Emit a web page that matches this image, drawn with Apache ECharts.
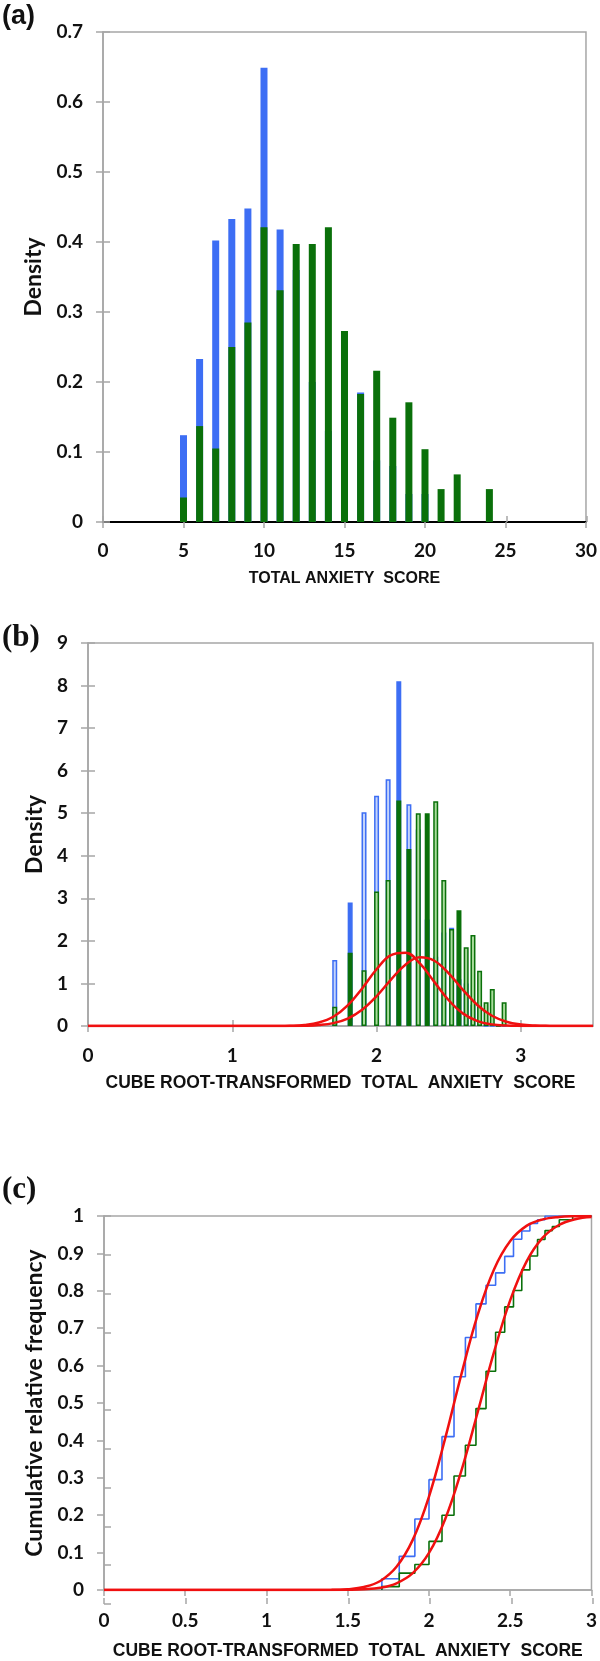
<!DOCTYPE html>
<html><head><meta charset="utf-8">
<script src="https://cdn.jsdelivr.net/npm/echarts@6/dist/echarts.min.js"></script>
<style>html,body{margin:0;padding:0;background:#fff}#c{width:600px;height:1661px}</style>
</head><body><div id="c"></div>
<script>
// ---------------- DATA ----------------
const scores = [5,6,7,8,9,10,11,12,13,14,15,16,17,18,19,20,21,22,23,24];
// (a) density by total anxiety score
const densityA_blue  = [0.124,0.233,0.402,0.433,0.448,0.649,0.418,0.36,0.20,0.13,0.176,0.185,0.088,0.08,0.04,0.04,0,0,0,0];
const densityA_green = [0.035,0.137,0.105,0.25,0.285,0.421,0.331,0.397,0.397,0.421,0.273,0.183,0.216,0.149,0.171,0.104,0.047,0.068,0,0.047];
// (b) cube-root transformed positions and densities
const cubeRoots = [1.710,1.817,1.913,2.000,2.080,2.154,2.224,2.289,2.351,2.410,2.466,2.520,2.571,2.621,2.668,2.714,2.759,2.802,2.844,2.884];
const densityB_blue  = [1.55,2.90,5.02,5.41,5.80,8.10,5.21,4.62,2.5,1.63,2.2,2.31,1.1,1.0,0.5,0.5,0,0,0,0];
const densityB_green = [0.45,1.72,1.31,3.16,3.43,5.30,4.16,5.00,5.00,5.28,3.43,2.28,2.72,1.85,2.14,1.30,0.56,0.87,0,0.56];
// (b) fitted normal density curves
const fitB_x     = [0,1.2,1.3,1.4,1.5,1.6,1.7,1.8,1.9,2.0,2.1,2.2,2.3,2.4,2.5,2.6,2.7,2.8,2.9,3.0,3.1,3.2,3.3,3.5];
const fitB_blue  = [0,0,0.001,0.006,0.025,0.081,0.217,0.484,0.882,1.334,1.667,1.722,1.470,1.037,0.605,0.291,0.116,0.038,0.010,0.002,0,0,0,0];
const fitB_green = [0,0,0,0.0015,0.006,0.023,0.068,0.175,0.380,0.699,1.090,1.441,1.615,1.534,1.236,0.844,0.488,0.240,0.100,0.035,0.010,0.0025,0,0];
// (c) cumulative relative frequency
const cdfC_blue  = [0.03,0.09,0.19,0.295,0.41,0.57,0.675,0.765,0.815,0.848,0.892,0.938,0.96,0.98,0.99,1,1,1,1,1];
const cdfC_green = [0.009,0.045,0.068,0.13,0.2,0.305,0.387,0.485,0.585,0.689,0.757,0.801,0.856,0.893,0.937,0.961,0.972,0.99,0.99,1];
const fitC_x     = [0,1.0,1.4,1.5,1.6,1.7,1.8,1.9,2.0,2.1,2.2,2.3,2.4,2.5,2.6,2.7,2.8,2.9,3.0];
const fitC_blue  = [0,0,0.0005,0.0022,0.008,0.024,0.062,0.134,0.250,0.406,0.578,0.736,0.857,0.933,0.9735,0.991,0.9975,0.9994,1.0];
const fitC_green = [0,0,0,0.0004,0.0018,0.006,0.018,0.045,0.099,0.190,0.320,0.476,0.636,0.775,0.878,0.942,0.976,0.9915,0.9974];
// tick labels
const ticksA_x = [0,5,10,15,20,25,30];
const ticksA_y = [0,0.1,0.2,0.3,0.4,0.5,0.6,0.7];
const ticksB_x = [0,1,2,3];
const ticksB_y = [0,1,2,3,4,5,6,7,8,9];
const ticksC_x = [0,0.5,1,1.5,2,2.5,3];
const ticksC_y = [0,0.1,0.2,0.3,0.4,0.5,0.6,0.7,0.8,0.9,1];
// bars in (b) that render as solid because of pixel snapping
const solidB_blue = [6,10];
const solidB_green = [6,10,11,13,17];

// ---------------- STYLE ----------------
const BLUE = '#3d6ef4', GREEN = '#0a700a', RED = '#f01010', GRAY = '#a6a6a6';
const LBLUE = '#c4d4fb', LGREEN = '#a9dc9c';
const tickFont = {fontFamily:'Lato', fontWeight:'bold', fontSize:19, color:'#111'};
const xNameFontA = {fontFamily:'Liberation Sans', fontWeight:'bold', fontSize:16, color:'#111'};
const xNameFont = {fontFamily:'Liberation Sans', fontWeight:'bold', fontSize:17.5, color:'#111'};
const yNameFont = {fontFamily:'Lato', fontWeight:'bold', fontSize:23, color:'#111'};

const G = [
  {left:103, top:32,   width:484, height:490},
  {left:88,  top:643,  width:505, height:383},
  {left:104, top:1216, width:489, height:388}
];
const grids = [];
G.forEach(g => {
  grids.push(Object.assign({show:true, borderColor:GRAY, borderWidth:1.5, containLabel:false}, g));
  grids.push(Object.assign({show:false}, g));
});

function fmt(v){ return String(v); }
function mkX(gi, min, max, interval, ticks, name, margin, nameGap, lineColor, lineWidth, nf){
  return [
    {type:'value', gridIndex:gi*2, min, max, interval,
     axisLine:{show:true, onZero:false, lineStyle:{color:lineColor, width:lineWidth}},
     axisTick:{show:true, inside:false, length:6, customValues:ticks, lineStyle:{color:GRAY, width:1.5}},
     axisLabel:Object.assign({margin, customValues:ticks, formatter:fmt}, tickFont),
     splitLine:{show:false},
     name, nameLocation:'middle', nameGap, nameTextStyle:nf},
    {type:'value', gridIndex:gi*2+1, min, max, interval,
     axisLine:{show:false}, axisTick:{show:true, inside:true, length:6, customValues:ticks, lineStyle:{color:GRAY, width:1.5}},
     axisLabel:{show:false}, splitLine:{show:false}}
  ];
}
function mkY(gi, min, max, interval, ticks, name, nameGap){
  return [
    {type:'value', gridIndex:gi*2, min, max, interval,
     axisLine:{show:true, lineStyle:{color:GRAY, width:1.5}},
     axisTick:{show:true, inside:false, length:7, customValues:ticks, lineStyle:{color:GRAY, width:1.5}},
     axisLabel:Object.assign({margin:20, customValues:ticks, formatter:fmt}, tickFont),
     splitLine:{show:false},
     name, nameLocation:'middle', nameGap, nameRotate:90, nameTextStyle:yNameFont},
    {type:'value', gridIndex:gi*2+1, min, max, interval,
     axisLine:{show:false}, axisTick:{show:true, inside:true, length:7, customValues:ticks, lineStyle:{color:GRAY, width:1.5}},
     axisLabel:{show:false}, splitLine:{show:false}}
  ];
}

const xAxis = [].concat(
  mkX(0, 0, 30, 5, ticksA_x, 'TOTAL ANXIETY  SCORE', 19, 49, '#000', 2, xNameFontA),
  mkX(1, 0, 3.5, 1, ticksB_x, 'CUBE ROOT-TRANSFORMED  TOTAL  ANXIETY  SCORE', 20, 48, GRAY, 1.5, xNameFont),
  mkX(2, 0, 3, 0.5, ticksC_x, 'CUBE ROOT-TRANSFORMED  TOTAL  ANXIETY  SCORE', 21, 52, GRAY, 1.5, xNameFont)
);
const yAxis = [].concat(
  mkY(0, 0, 0.7, 0.1, ticksA_y, 'Density', 57),
  mkY(1, 0, 9, 1, ticksB_y, 'Density', 36),
  mkY(2, 0, 1, 0.1, ticksC_y, 'Cumulative relative frequency', 55)
);

const series = [];
// (a)
series.push({type:'bar', xAxisIndex:0, yAxisIndex:0, barWidth:7, barGap:'-100%',
  data: scores.map((s,i)=>[s, densityA_blue[i]]), itemStyle:{color:BLUE}, z:2});
series.push({type:'bar', xAxisIndex:0, yAxisIndex:0, barWidth:7, barGap:'-100%',
  data: scores.map((s,i)=>[s, densityA_green[i]]), itemStyle:{color:GREEN}, z:3});
// (b)
series.push({type:'bar', xAxisIndex:2, yAxisIndex:2, barWidth:5, barGap:'-100%',
  data: cubeRoots.map((x,i)=>[x, densityB_blue[i]]),
  itemStyle:{color:p => solidB_blue.indexOf(scores[p.dataIndex])>=0 ? BLUE : LBLUE, borderColor:BLUE, borderWidth:1.5}, z:2});
series.push({type:'bar', xAxisIndex:2, yAxisIndex:2, barWidth:5, barGap:'-100%',
  data: cubeRoots.map((x,i)=>[x, densityB_green[i]]),
  itemStyle:{color:p => solidB_green.indexOf(scores[p.dataIndex])>=0 ? GREEN : LGREEN, borderColor:GREEN, borderWidth:1.5}, z:3});
[fitB_blue, fitB_green].forEach(arr => series.push({type:'line', xAxisIndex:2, yAxisIndex:2, smooth:0.4, showSymbol:false,
  data: fitB_x.map((x,i)=>[x, arr[i]]), lineStyle:{color:RED, width:2.5}, z:5}));
// (c)
[[cdfC_blue, BLUE],[cdfC_green, GREEN]].forEach(([arr,col]) => {
  const d = [[cubeRoots[0], 0]].concat(cubeRoots.map((x,i)=>[x, arr[i]])).concat([[3, arr[arr.length-1]]]);
  series.push({type:'line', xAxisIndex:4, yAxisIndex:4, step:'end', showSymbol:false,
    data:d, lineStyle:{color:col, width:1.6}, z:3});
});
[fitC_blue, fitC_green].forEach(arr => series.push({type:'line', xAxisIndex:4, yAxisIndex:4, smooth:0.4, showSymbol:false,
  data: fitC_x.map((x,i)=>[x, arr[i]]), lineStyle:{color:RED, width:2.5}, z:5}));

const chart = echarts.init(document.getElementById('c'), null, {renderer:'canvas'});
chart.setOption({
  animation:false,
  backgroundColor:'#fff',
  grid: grids,
  xAxis, yAxis, series,
  graphic:[
    {type:'text', left:2, top:3, style:{text:'(a)', font:'bold 27px "Liberation Sans"', fill:'#111'}},
    {type:'text', left:2, top:622, style:{text:'(b)', font:'bold 31px "Liberation Serif"', fill:'#111'}},
    {type:'text', left:2, top:1174, style:{text:'(c)', font:'bold 31px "Liberation Serif"', fill:'#111'}}
  ]
});
</script></body></html>
